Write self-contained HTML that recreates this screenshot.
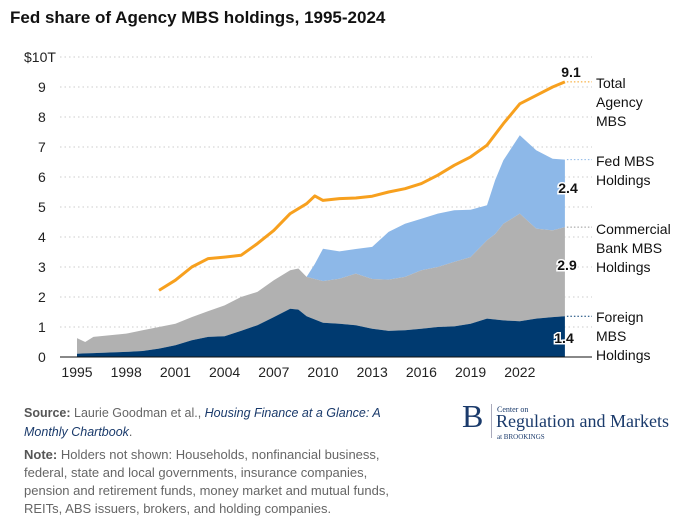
<!DOCTYPE html>
<html><head><meta charset="utf-8"><style>
body{margin:0;width:696px;height:523px;background:#fff;font-family:"Liberation Sans",sans-serif;overflow:hidden;position:relative}
.t{position:absolute}
</style></head><body>
<div class="t" style="left:10px;top:8px;font-size:17px;font-weight:bold;color:#111">Fed share of Agency MBS holdings, 1995-2024</div>
<svg id="c" width="696" height="400" style="position:absolute;left:0;top:0"></svg>
<div class="t" style="left:24px;top:404px;font-size:12.5px;line-height:19px;color:#666;width:400px"><b style="color:#555">Source:</b> Laurie Goodman et al., <i style="color:#1a3a6b">Housing Finance at a Glance: A Monthly Chartbook</i>.</div>
<div class="t" style="left:24px;top:446px;font-size:13px;line-height:18px;color:#666;width:378px"><b style="color:#555">Note:</b> Holders not shown: Households, nonfinancial business, federal, state and local governments, insurance companies, pension and retirement funds, money market and mutual funds, REITs, ABS issuers, brokers, and holding companies.</div>
<div class="t" style="left:462px;top:400px;color:#1a3a6b;font-family:'Liberation Serif',serif">
<span style="position:absolute;left:0;top:-2px;font-size:32px">B</span>
<span style="position:absolute;left:29px;top:4px;width:1px;height:34px;background:#aab"></span>
<span style="position:absolute;left:35px;top:5px;font-size:8px;white-space:nowrap">Center on</span>
<span style="position:absolute;left:34px;top:11px;font-size:18px;white-space:nowrap">Regulation and Markets</span>
<span style="position:absolute;left:35px;top:33px;font-size:7px;white-space:nowrap">at BROOKINGS</span>
</div>
<script>
const years=[1995,1995.5,1996,1998,1999,2000,2001,2002,2003,2004,2005,2006,2007,2008,2008.5,2009,2009.5,2010,2011,2012,2013,2014,2015,2016,2017,2018,2019,2020,2020.5,2021,2022,2023,2024,2024.75];
const foreign=[0.11,0.12,0.13,0.17,0.2,0.28,0.39,0.56,0.67,0.69,0.87,1.06,1.33,1.61,1.58,1.36,1.25,1.14,1.11,1.06,0.94,0.87,0.89,0.94,1.0,1.02,1.11,1.28,1.25,1.22,1.19,1.28,1.33,1.36];
const bankTop=[0.63,0.5,0.67,0.78,0.89,1.0,1.11,1.33,1.53,1.72,2.0,2.17,2.56,2.89,2.95,2.67,2.6,2.53,2.61,2.78,2.6,2.58,2.67,2.89,3.0,3.17,3.33,3.89,4.1,4.44,4.78,4.28,4.22,4.33];
const fedTop=[null,null,null,null,null,null,null,null,null,null,null,null,null,null,null,2.67,3.1,3.61,3.52,3.6,3.67,4.17,4.44,4.61,4.78,4.89,4.91,5.06,5.9,6.56,7.39,6.89,6.61,6.58];
const totYears=[2000,2001,2002,2003,2004,2005,2006,2007,2008,2009,2009.5,2010,2011,2012,2013,2014,2015,2016,2017,2018,2019,2020,2021,2022,2023,2024,2024.75];
const total=[2.22,2.56,3.0,3.28,3.33,3.39,3.78,4.22,4.78,5.11,5.37,5.22,5.28,5.3,5.36,5.5,5.61,5.78,6.06,6.39,6.67,7.06,7.78,8.44,8.72,9.0,9.17];
const yTicks=[0,1,2,3,4,5,6,7,8,9,10];
const xTicks=[1995,1998,2001,2004,2007,2010,2013,2016,2019,2022];
const X=y=>77+(y-1995)*16.4, Y=v=>357-v*30;
const svg=document.getElementById('c'),NS='http://www.w3.org/2000/svg';
function mk(t,a,p){const e=document.createElementNS(NS,t);for(const k in a)e.setAttribute(k,a[k]);(p||svg).appendChild(e);return e}
yTicks.forEach(v=>{
 if(v>0){const g=mk('line',{x1:60,x2:592,y1:Y(v),y2:Y(v),stroke:'#ccc','stroke-dasharray':'1.5 3'});
 
 }
 const t=mk('text',{x:v==10?24:38,y:Y(v)+5,'font-size':14,fill:'#222'});t.textContent=v==10?'$10T':v;
 
 
});
function area(top,bot,fill,name){let pts=[],b=[];years.forEach((y,i)=>{if(top[i]!=null){pts.push(X(y)+','+Y(top[i]));b.unshift(X(y)+','+Y(bot?bot[i]:0));}});
 const p=mk('polygon',{points:pts.concat(b).join(' '),fill:fill});
 
 }
area(fedTop,bankTop,'#8db8e8','fed-area');
area(bankTop,foreign,'#b1b1b1','commercial-bank-area');
area(foreign,null,'#003a70','foreign-area');
const ln=mk('polyline',{points:totYears.map((y,i)=>X(y)+','+Y(total[i])).join(' '),fill:'none',stroke:'#f7a01e','stroke-width':3,'stroke-linejoin':'round'});


const ax=mk('line',{x1:60,x2:592,y1:357,y2:357,stroke:'#111','stroke-width':1});


xTicks.forEach(y=>{const t=mk('text',{x:X(y),y:377,'font-size':14,fill:'#222','text-anchor':'middle'});t.textContent=y;
 
 });
const last=years.length-1,xe=X(years[last]);
[[total[total.length-1],'#f7a01e'],[fedTop[last],'#8db8e8'],[bankTop[last],'#999'],[foreign[last],'#003a70']].forEach(d=>{
 const l=mk('line',{x1:xe+2,x2:592,y1:Y(d[0]),y2:Y(d[0]),stroke:d[1],'stroke-dasharray':'1.5 2'});
 
 });
function lab(txt,x,y){const t=mk('text',{x:x,y:y,'font-size':14,'font-weight':'bold',fill:'#111','text-anchor':'middle',stroke:'#fff','stroke-width':3,'paint-order':'stroke'});t.textContent=txt;
 
 }
lab('9.1',571,77);
lab('2.4',568,193);
lab('2.9',567,270);
lab('1.4',564,343);
const labels=[['Total','Agency','MBS',88],['Fed MBS','Holdings',null,166],['Commercial','Bank MBS','Holdings',234],['Foreign','MBS','Holdings',322]];
labels.forEach(L=>{[L[0],L[1],L[2]].forEach((s,i)=>{if(!s)return;const t=mk('text',{x:596,y:L[3]+i*19,'font-size':14,fill:'#111'});t.textContent=s;
 
 });});
</script>
</body></html>
